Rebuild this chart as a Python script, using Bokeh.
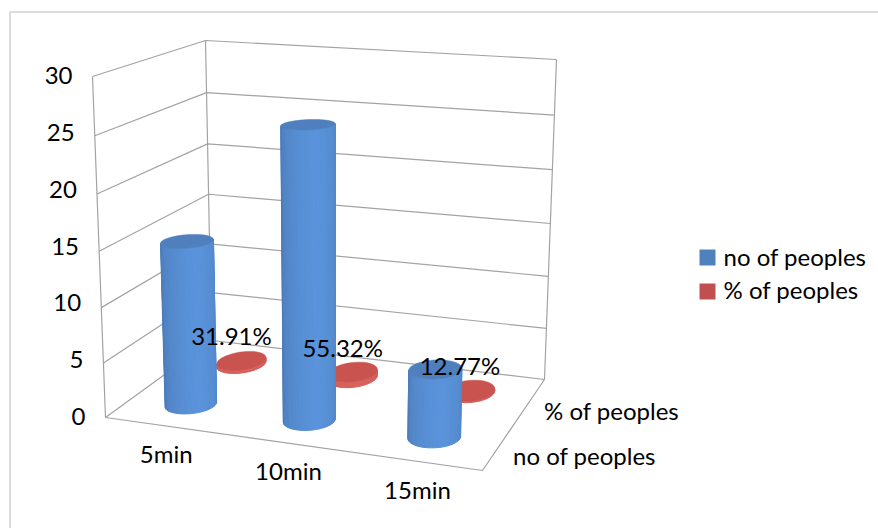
from bokeh.embed import file_html
from bokeh.models import ColumnDataSource, Range1d
from bokeh.plotting import figure
from bokeh.resources import INLINE
from bokeh.core.properties import value
import numpy as np

categories = ["5min", "10min", "15min"]
series_names = ["no of peoples", "% of peoples"]
no_of_peoples = [15, 26, 6]
pct_of_peoples = [0.3191, 0.5532, 0.1277]
pct_labels = ["31.91%", "55.32%", "12.77%"]
value_ticks = [0, 5, 10, 15, 20, 25, 30]

FONT = "Lato"
TEXT = "#000000"
GRID = "#a3a3a3"
BLUE = "#4f81bd"
RED = "#c0504d"

# Screen position of the eight corners of the plot box: (across, depth, height)
BOX = {
    (0, 0, 0): (105, 417), (1, 0, 0): (482, 470),
    (0, 1, 0): (211, 340), (1, 1, 0): (544, 379),
    (0, 0, 1): (92, 76),   (1, 0, 1): (490, 98),
    (0, 1, 1): (205, 40),  (1, 1, 1): (556, 59),
}
VMAX = value_ticks[-1]


def project(a, d, v):
    """Map across/depth fractions and a data value to page coordinates."""
    s = v / VMAX
    h = s - 0.05 * s * (1 - s)  # heights are foreshortened a little lower down
    a = a - 0.08 * a * (1 - a)  # and so are the far categories
    x = y = 0.0
    for i in (0, 1):
        for j in (0, 1):
            for k in (0, 1):
                w = (a if i else 1 - a) * (d if j else 1 - d) * (h if k else 1 - h)
                x += w * BOX[(i, j, k)][0]
                y += w * BOX[(i, j, k)][1]
    return x, y


def mix(c1, c2, t):
    a = [int(c1[i:i + 2], 16) for i in (1, 3, 5)]
    b = [int(c2[i:i + 2], 16) for i in (1, 3, 5)]
    return "#%02x%02x%02x" % tuple(round(p + (q - p) * t) for p, q in zip(a, b))


p = figure(width=878, height=528, output_backend="svg", toolbar_location=None,
           x_range=Range1d(0, 878), y_range=Range1d(528, 0),
           min_border=0, outline_line_color=None, background_fill_color="#ffffff",
           border_fill_color="#ffffff")
p.axis.visible = False
p.grid.visible = False

# Chart area frame: only the left and top edges fall inside the page
p.line([9.5, 9.5, 878], [528, 11.5, 11.5], line_color="#dcdcdc", line_width=2)

# Walls, gridlines and floor edges
wall_xs, wall_ys = [], []
for v in value_ticks:
    pts = [project(0, 0, v), project(0, 1, v), project(1, 1, v)]
    wall_xs.append([q[0] for q in pts])
    wall_ys.append([q[1] for q in pts])
for a, d in [(0, 0), (0, 1), (1, 1)]:
    pts = [project(a, d, 0), project(a, d, VMAX)]
    wall_xs.append([q[0] for q in pts])
    wall_ys.append([q[1] for q in pts])
pts = [project(0, 0, 0), project(1, 0, 0), project(1, 1, 0)]
wall_xs.append([q[0] for q in pts])
wall_ys.append([q[1] for q in pts])
p.multi_line(wall_xs, wall_ys, line_color=GRID, line_width=1.2)

RX, RZ, SKEW = 0.063, 0.118, 0.012


def ring(a, d, v, n=49):
    t = np.linspace(0, 2 * np.pi, n)
    pts = [project(a + RX * np.cos(q), d + RZ * np.sin(q) + SKEW * np.cos(q), v) for q in t]
    return np.array(pts)


def cylinder(a, d, v, edge, light, cap):
    """Shaded side strips plus the top cap of one column."""
    low, top = ring(a, d, 0), ring(a, d, v)
    start = int(np.argmax(low[:-1, 0]))
    # Walk the near half of the base from the right silhouette to the left one
    n = len(low) - 1
    near = [(start + s) % n for s in range(n // 2 + 1)]
    if low[near[len(near) // 2], 1] < low[start, 1]:
        near = [(start - s) % n for s in range(n // 2 + 1)]
    xs, ys, colors = [], [], []
    count = len(near) - 1
    for s in range(count):
        i, j = near[s], near[s + 1]
        xs.append([low[i, 0], low[j, 0], top[j, 0], top[i, 0]])
        ys.append([low[i, 1], low[j, 1], top[j, 1], top[i, 1]])
        pos = (s + 0.5) / count
        # Brightest a little right of the middle, darker to both edges
        shade = 1 - abs(pos - 0.42) / 0.58
        colors.append(mix(edge, light, min(1, shade ** 0.6)))
    src = ColumnDataSource(dict(xs=xs, ys=ys, c=colors))
    p.patches("xs", "ys", source=src, fill_color="c", line_color="c", line_width=1)
    p.patch(top[:, 0], top[:, 1], fill_color=cap, line_color=cap, line_width=0.5)


across = [(i + 0.5) / len(categories) for i in range(len(categories))]
rows = [0.27, 0.78]

# Rear row first so the front columns overlap it
for a, v in zip(across, pct_of_peoples):
    cylinder(a, rows[1], v, "#cc5a55", "#d9625c", "#c9534f")
for a, v in zip(across, no_of_peoples):
    cylinder(a, rows[0], v, "#4a78b3", "#5a94dc", "#4f80bd")

text_kw = dict(text_font=value(FONT), text_font_size="24px", text_color=TEXT,
               text_baseline="middle")

# Value labels evenly spaced along the front-left edge
bottom, upper = project(0, 0, 0), project(0, 0, VMAX)
tick_x = [bottom[0] + (upper[0] - bottom[0]) * v / VMAX for v in value_ticks]
tick_y = [bottom[1] + (upper[1] - bottom[1]) * v / VMAX for v in value_ticks]
p.text(tick_x, tick_y, text=[str(v) for v in value_ticks],
       text_align="right", x_offset=-20, y_offset=-1, **text_kw)

# Category labels below the front edge
cat_pos = [project(a, 0, 0) for a in across]
p.text([q[0] for q in cat_pos], [q[1] for q in cat_pos], text=categories,
       text_align="center", x_offset=2, y_offset=28, **text_kw)

# Series labels beside the right floor edge
row_pos = [project(1, d, 0) for d in [0.25, 0.75]]
p.text([q[0] for q in row_pos], [q[1] for q in row_pos], text=series_names,
       text_align="left", x_offset=15, y_offset=8, **text_kw)

# Percentage labels above the rear row
lab_pos = [project(a, rows[1], v) for a, v in zip(across, pct_of_peoples)]
p.text([q[0] for q in lab_pos], [q[1] for q in lab_pos], text=pct_labels,
       text_align="center", x_offset=-10, y_offset=-25, **text_kw)

# Legend
p.rect([707, 707], [257, 291], width=16, height=16, fill_color=[BLUE, RED], line_color=None)
p.text([723, 723], [256, 289], text=series_names, text_align="left", **text_kw)

open("out.html", "w").write(file_html(p, INLINE))
